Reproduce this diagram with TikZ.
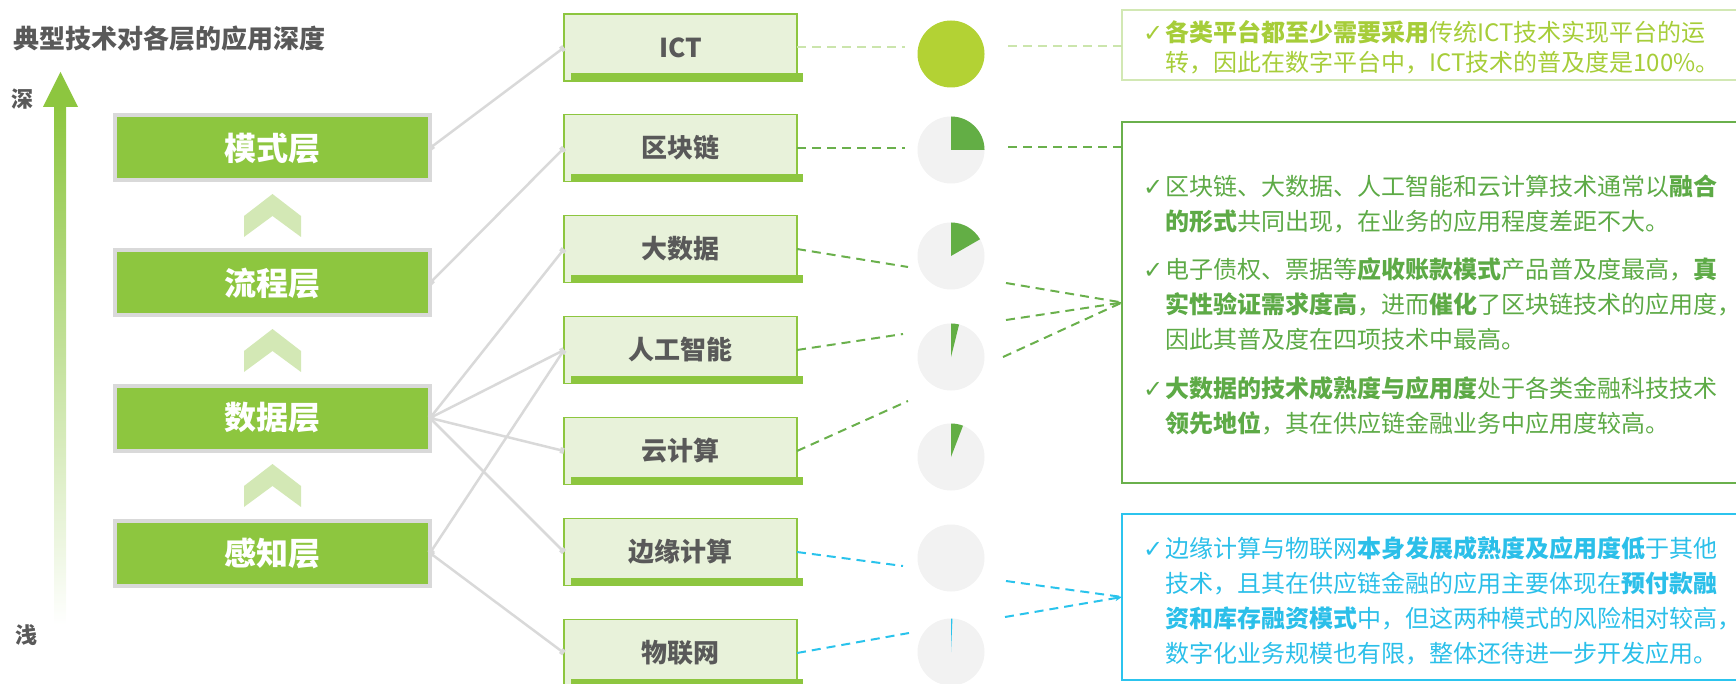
\documentclass[tikz,border=0pt]{standalone}
\usepackage{fontspec}
\setmainfont{Noto Sans CJK SC}
\newfontfamily\symfont{DejaVu Sans}
\usetikzlibrary{arrows.meta}

\definecolor{layergreen}{HTML}{8DC63F}
\definecolor{layerrim}{HTML}{D9D9D9}
\definecolor{chevroncol}{HTML}{D3E8B5}
\definecolor{techfill}{HTML}{E8F2DA}
\definecolor{techrim}{HTML}{8DC63F}
\definecolor{darktext}{HTML}{595959}
\definecolor{piegray}{HTML}{F2F2F2}
\definecolor{ictgreen}{HTML}{B3D234}
\definecolor{piegreen}{HTML}{63AE45}
\definecolor{iotblue}{HTML}{29C3EC}
\definecolor{ictdash}{HTML}{CBE5AC}
\definecolor{ictrim}{HTML}{D2E8B4}
\definecolor{ictword}{HTML}{A6CD39}
\definecolor{midgreen}{HTML}{6AB04C}
\definecolor{midword}{HTML}{5DAA46}
\definecolor{skyrim}{HTML}{2CC4EE}
\definecolor{skyword}{HTML}{2BBFE9}

\newcommand{\chk}{\makebox[22pt][l]{{\symfont ✓}}}
\newcommand{\ind}{\hspace*{22pt}}

\tikzset{
  layerbox/.style={rectangle, draw=layerrim, line width=4pt, fill=layergreen,
    minimum width=315pt, minimum height=65pt, inner sep=0pt, outer sep=0pt,
    text=white, font=\fontsize{32}{32}\selectfont\bfseries},
  techbox/.style={rectangle, draw=techrim, line width=1.5pt, fill=techfill,
    minimum width=233pt, minimum height=67pt, inner sep=0pt, outer sep=0pt,
    text=darktext, font=\fontsize{26}{26}\selectfont\bfseries},
  pie/.style={circle, fill=piegray, minimum size=67pt, inner sep=0pt, outer sep=0pt},
  notebox/.style={rectangle, line width=2pt, anchor=north west, minimum width=640pt,
    inner sep=0pt, outer sep=0pt},
  note/.style={anchor=base west, inner sep=0pt, font=\fontsize{24}{35}\selectfont},
  link/.style={draw=layerrim, line width=2.5pt, arrows={Square[length=4pt,width=6pt]-Square[length=4pt,width=6pt]}},
  dashict/.style={draw=ictdash, line width=2pt, dash pattern=on 9pt off 6pt},
  dashgreen/.style={draw=midgreen, line width=2pt, dash pattern=on 9pt off 6pt},
  dashblue/.style={draw=iotblue, line width=2pt, dash pattern=on 9pt off 6pt},
  tip/.style={-{Stealth[length=7pt,width=6pt]}}
}

\begin{document}
\begin{tikzpicture}[x=1pt,y=-1pt]
  \path[use as bounding box, clip] (0,0) rectangle (1736,684);

  % title and depth axis
  \node[anchor=west, inner sep=0pt, text=darktext, font=\fontsize{26}{26}\selectfont\bfseries] (title) at (13,39) {典型技术对各层的应用深度};
  \shade[top color=layergreen, middle color=layergreen!55, bottom color=white] (54,106) rectangle (66,625);
  \fill[layergreen] (43,107) -- (60.5,72) -- (78,107) -- cycle;
  \node[inner sep=0pt, text=darktext, font=\fontsize{22}{22}\selectfont\bfseries] (deep) at (22.5,99) {深};
  \node[inner sep=0pt, text=darktext, font=\fontsize{22}{22}\selectfont\bfseries] (shallow) at (27,635) {浅};

  % layers
  \node[layerbox] (mode) at (272.5,148) {模式层};
  \node[layerbox] (flow) at (272.5,283) {流程层};
  \node[layerbox] (data) at (272.5,418) {数据层};
  \node[layerbox] (sense) at (272.5,553) {感知层};
  \foreach \cy in {215.5,350.5,485.5}
    \fill[chevroncol] (272.5,\cy-21.5) -- (301,\cy+0.5) -- (301,\cy+21.5) -- (272.5,\cy+0.5)
      -- (244,\cy+21.5) -- (244,\cy+0.5) -- cycle;

  % technologies
  \node[techbox] (ict) at (680.5,47.5) {ICT};
  \node[techbox] (chain) at (680.5,148) {区块链};
  \node[techbox] (bd) at (680.5,249) {大数据};
  \node[techbox] (ai) at (680.5,350) {人工智能};
  \node[techbox] (cl) at (680.5,451) {云计算};
  \node[techbox] (ed) at (680.5,552) {边缘计算};
  \node[techbox] (iot) at (680.5,653) {物联网};
  \foreach \t in {ict,chain,bd,ai,cl,ed,iot}
    \fill[techrim] ([xshift=7pt,yshift=-0.75pt]\t.south west) rectangle ([xshift=6pt,yshift=7.5pt]\t.south east);

  \draw[link] (mode.east) -- (ict.west);
  \draw[link] (flow.east) -- (chain.west);
  \draw[link] (data.east) -- (bd.west);
  \draw[link] (data.east) -- (ai.west);
  \draw[link] (data.east) -- (cl.west);
  \draw[link] (data.east) -- (ed.west);
  \draw[link] (sense.east) -- (ai.west);
  \draw[link] (sense.east) -- (iot.west);

  % penetration pies
  \node[pie, fill=ictgreen] (pIct) at (951,54) {};
  \node[pie] (pChain) at (951,150) {};
  \node[pie] (pBd) at (951,256) {};
  \node[pie] (pAi) at (951,357) {};
  \node[pie] (pCl) at (951,457) {};
  \node[pie] (pEd) at (951,558) {};
  \node[pie] (pIot) at (951,652) {};
  \foreach \p/\e/\c in {pChain/0/piegreen, pBd/-30/piegreen, pAi/-76/piegreen, pCl/-69/piegreen, pIot/-87.5/iotblue}
    \fill[\c] (\p.center) -- ++(-90:33.5) arc[start angle=-90, end angle=\e, radius=33.5] -- cycle;

  % comment boxes
  \node[notebox, draw=ictrim, minimum height=70pt] (boxTop) at (1122,10) {};
  \node[notebox, draw=midgreen, minimum height=361pt] (boxMid) at (1122,122) {};
  \node[notebox, draw=skyrim, minimum height=166pt] (boxBlue) at (1122,514) {};

  \node[note, text=ictword, font=\fontsize{24}{30}\selectfont] (noteIct) at (1143,42) {\parbox[t]{585pt}{\chk\textbf{各类平台都至少需要采用}传统ICT技术实现平台的运\\
    \ind 转，因此在数字平台中，ICT技术的普及度是100\%。}};
  \node[note, text=midword] (noteMix) at (1143,196) {\parbox[t]{585pt}{\chk 区块链、大数据、人工智能和云计算技术通常以\textbf{融合}\\
    \ind\textbf{的形式}共同出现，在业务的应用程度差距不大。}};
  \node[note, text=midword] (noteBill) at (1143,279) {\parbox[t]{585pt}{\chk 电子债权、票据等\textbf{应收账款模式}产品普及度最高，\textbf{真}\\
    \ind\textbf{实性验证需求度高}，进而\textbf{催化}了区块链技术的应用度，\\
    \ind 因此其普及度在四项技术中最高。}};
  \node[note, text=midword] (noteData) at (1143,397) {\parbox[t]{585pt}{\chk\textbf{大数据的技术成熟度与应用度}处于各类金融科技技术\\
    \ind\textbf{领先地位}，其在供应链金融业务中应用度较高。}};
  \node[note, text=skyword] (noteEdge) at (1143,557) {\parbox[t]{585pt}{\chk 边缘计算与物联网\textbf{本身发展成熟度及应用度低}于其他\\
    \ind 技术，且其在供应链金融的应用主要体现在\textbf{预付款融}\\
    \ind\textbf{资和库存融资模式}中，但这两种模式的风险相对较高，\\
    \ind 数字化业务规模也有限，整体还待进一步开发应用。}};

  % dashed leaders, broken round the pies
  \coordinate (ictA) at (905,47.5);  \coordinate (ictB) at (1008,46);
  \coordinate (chA) at (905,148);    \coordinate (chB) at (1008,147);
  \coordinate (bdA) at (908,267);    \coordinate (bdB) at (1006,283);
  \coordinate (aiA) at (903,334);    \coordinate (aiB) at (1006,320);
  \coordinate (clA) at (908,401);    \coordinate (clB) at (1003,357);
  \coordinate (edA) at (903,566);    \coordinate (edB) at (1006,581);
  \coordinate (ioA) at (909,633);    \coordinate (ioB) at (1005,617);

  \draw[dashict] (ict.east) -- (ictA);
  \draw[dashict] (ictB) -- (ictB -| boxTop.west);
  \draw[dashgreen] (chain.east) -- (chA);
  \draw[dashgreen] (chB) -- (chB -| boxMid.west);
  \draw[dashgreen] (bd.east) -- (bdA);
  \draw[dashgreen] (bdB) -- (boxMid.west);
  \draw[dashgreen] (ai.east) -- (aiA);
  \draw[dashgreen, tip] (aiB) -- (boxMid.west);
  \draw[dashgreen] (cl.east) -- (clA);
  \draw[dashgreen] (clB) -- (boxMid.west);
  \draw[dashblue] (ed.east) -- (edA);
  \draw[dashblue] (edB) -- (boxBlue.west);
  \draw[dashblue] (iot.east) -- (ioA);
  \draw[dashblue, tip] (ioB) -- (boxBlue.west);
\end{tikzpicture}
\end{document}
